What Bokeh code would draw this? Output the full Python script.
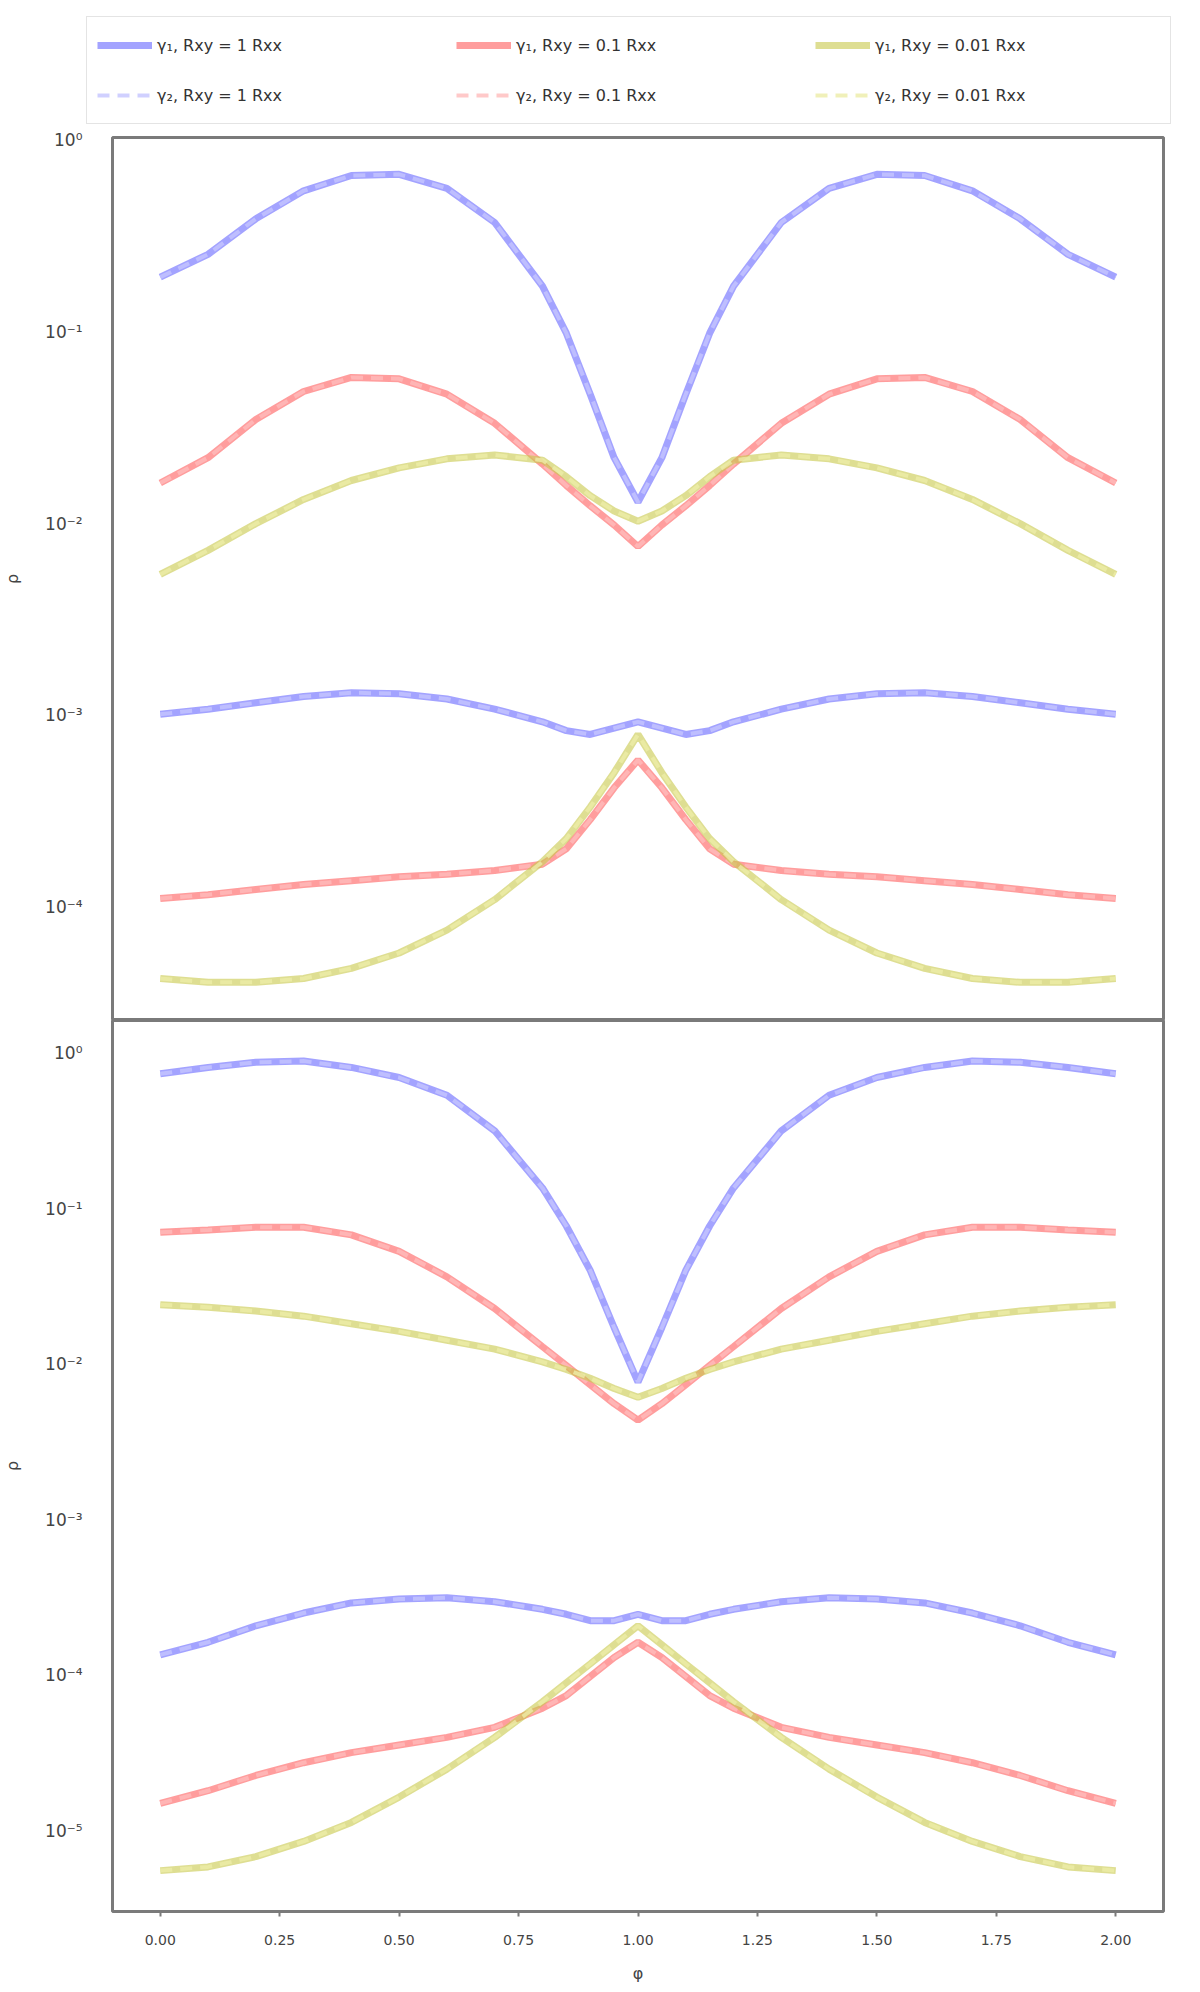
import numpy as np
from bokeh.plotting import figure
from bokeh.layouts import column
from bokeh.models import Range1d, FixedTicker, CustomJSTickFormatter, Legend, LegendItem
from bokeh.embed import file_html
from bokeh.resources import INLINE

# ---------------- data (log10 of the plotted quantity) ----------------
x = [0.0, 0.1, 0.2, 0.3, 0.4, 0.5, 0.6, 0.7, 0.8, 0.85, 0.9, 0.95, 1.0,
     1.05, 1.1, 1.15, 1.2, 1.3, 1.4, 1.5, 1.6, 1.7, 1.8, 1.9, 2.0]

# upper panel
top_blue_hi = [-0.715, -0.596, -0.411, -0.265, -0.185, -0.179, -0.252, -0.430, -0.762, -1.007, -1.325, -1.656, -1.887,
               -1.656, -1.325, -1.007, -0.762, -0.430, -0.252, -0.179, -0.185, -0.265, -0.411, -0.596, -0.715]
top_red_hi = [-1.788, -1.656, -1.457, -1.311, -1.238, -1.245, -1.325, -1.477, -1.689, -1.801, -1.907, -2.007, -2.119,
              -2.007, -1.907, -1.801, -1.689, -1.477, -1.325, -1.245, -1.238, -1.311, -1.457, -1.656, -1.788]
top_yel_hi = [-2.265, -2.139, -2.000, -1.874, -1.775, -1.709, -1.662, -1.642, -1.669, -1.755, -1.854, -1.934, -1.987,
              -1.934, -1.854, -1.755, -1.669, -1.642, -1.662, -1.709, -1.775, -1.874, -2.000, -2.139, -2.265]
top_blue_lo = [-2.993, -2.967, -2.934, -2.901, -2.881, -2.887, -2.914, -2.967, -3.033, -3.079, -3.099, -3.066, -3.033,
               -3.066, -3.099, -3.079, -3.033, -2.967, -2.914, -2.887, -2.881, -2.901, -2.934, -2.967, -2.993]
top_red_lo = [-3.954, -3.934, -3.907, -3.881, -3.861, -3.841, -3.828, -3.808, -3.775, -3.695, -3.543, -3.377, -3.232,
              -3.377, -3.543, -3.695, -3.775, -3.808, -3.828, -3.841, -3.861, -3.881, -3.907, -3.934, -3.954]
top_yel_lo = [-4.371, -4.391, -4.391, -4.371, -4.318, -4.238, -4.119, -3.960, -3.762, -3.642, -3.477, -3.298, -3.099,
              -3.298, -3.477, -3.642, -3.762, -3.960, -4.119, -4.238, -4.318, -4.371, -4.391, -4.391, -4.371]

# lower panel
bot_blue_hi = [-0.131, -0.090, -0.057, -0.049, -0.090, -0.155, -0.269, -0.498, -0.865, -1.110, -1.396, -1.763, -2.114,
               -1.763, -1.396, -1.110, -0.865, -0.498, -0.269, -0.155, -0.090, -0.049, -0.057, -0.090, -0.131]
bot_red_hi = [-1.151, -1.135, -1.118, -1.118, -1.167, -1.273, -1.437, -1.641, -1.886, -2.008, -2.131, -2.253, -2.359,
              -2.253, -2.131, -2.008, -1.886, -1.641, -1.437, -1.273, -1.167, -1.118, -1.118, -1.135, -1.151]
bot_yel_hi = [-1.616, -1.633, -1.657, -1.690, -1.739, -1.788, -1.845, -1.902, -1.984, -2.033, -2.090, -2.155, -2.212,
              -2.155, -2.090, -2.033, -1.984, -1.902, -1.845, -1.788, -1.739, -1.690, -1.657, -1.633, -1.616]
bot_blue_lo = [-3.869, -3.788, -3.682, -3.600, -3.535, -3.510, -3.502, -3.527, -3.576, -3.608, -3.649, -3.649, -3.608,
               -3.649, -3.649, -3.608, -3.576, -3.527, -3.502, -3.510, -3.535, -3.600, -3.682, -3.788, -3.869]
bot_red_lo = [-4.824, -4.743, -4.645, -4.563, -4.498, -4.449, -4.400, -4.335, -4.212, -4.131, -4.008, -3.886, -3.788,
              -3.886, -4.008, -4.131, -4.212, -4.335, -4.400, -4.449, -4.498, -4.563, -4.645, -4.743, -4.824]
bot_yel_lo = [-5.257, -5.233, -5.167, -5.069, -4.947, -4.784, -4.604, -4.400, -4.171, -4.049, -3.927, -3.804, -3.682,
              -3.804, -3.927, -4.049, -4.171, -4.400, -4.604, -4.784, -4.947, -5.069, -5.167, -5.233, -5.257]

x_ticks = [0.0, 0.25, 0.5, 0.75, 1.0, 1.25, 1.5, 1.75, 2.0]
top_y_ticks = [1, 1e-1, 1e-2, 1e-3, 1e-4]
bot_y_ticks = [1, 1e-1, 1e-2, 1e-3, 1e-4, 1e-5]

labels_row1 = ["γ₁, Rxy = 1 Rxx", "γ₁, Rxy = 0.1 Rxx", "γ₁, Rxy = 0.01 Rxx"]
labels_row2 = ["γ₂, Rxy = 1 Rxx", "γ₂, Rxy = 0.1 Rxx", "γ₂, Rxy = 0.01 Rxx"]
dark_colors = ["#6666ff", "#ff5c5c", "#c8c84a"]
light_colors = ["#c4c4ff", "#ffbcbc", "#ececa8"]

# ---------------- styling helpers ----------------
FONT = "DejaVu Sans"
fmt = CustomJSTickFormatter(code="""
const sup = {"-":"\u207b","0":"\u2070","1":"\u00b9","2":"\u00b2","3":"\u00b3","4":"\u2074",
             "5":"\u2075","6":"\u2076","7":"\u2077","8":"\u2078","9":"\u2079"};
const e = Math.round(Math.log10(tick));
return "10" + String(e).split("").map(c => sup[c]).join("");
""")

x_range = Range1d(-0.1, 2.1)

DARK_W, LIGHT_W, DASH = 7, 4, "12 8"
W = 1192
LEFT, RIGHT = 112, 29


def style(p, yticks):
    p.xgrid.visible = False
    p.ygrid.visible = False
    p.outline_line_color = "#7a7a7a"
    p.outline_line_width = 3
    p.yaxis.ticker = FixedTicker(ticks=yticks)
    p.yaxis.formatter = fmt
    p.yaxis.axis_line_color = None
    p.yaxis.major_tick_line_color = None
    p.yaxis.minor_tick_line_color = None
    p.yaxis.major_label_text_font = FONT
    p.yaxis.major_label_text_font_size = "17px"
    p.yaxis.major_label_text_color = "#444444"
    p.yaxis.major_label_standoff = 24
    p.yaxis.axis_label = "ρ"
    p.yaxis.axis_label_text_font = FONT
    p.yaxis.axis_label_text_font_style = "normal"
    p.yaxis.axis_label_text_font_size = "16px"
    p.yaxis.axis_label_text_color = "#444444"
    p.yaxis.axis_label_standoff = 20


def draw(p, series):
    for i, (hi, lo) in enumerate(series):
        for ys in (hi, lo):
            p.line(x, 10 ** np.array(ys), line_color=dark_colors[i], line_width=DARK_W, line_alpha=0.6)
        for ys in (hi, lo):
            p.line(x, 10 ** np.array(ys), line_color=light_colors[i], line_width=LIGHT_W, line_alpha=0.8,
                   line_dash=DASH)


# ---------------- legend strip ----------------
p0 = figure(width=W, height=127, x_range=(0, 1), y_range=(0, 1), output_backend="svg",
            toolbar_location=None, min_border=0, min_border_left=86, min_border_right=W - 1175,
            x_axis_location=None, y_axis_location=None)
p0.outline_line_color = None
p0.grid.visible = False
nan = [float("nan")]
dark_r = [p0.line(nan, nan, line_color=c, line_width=DARK_W, line_alpha=0.6) for c in dark_colors]
light_r = [p0.line(nan, nan, line_color=c, line_width=LIGHT_W, line_alpha=0.8, line_dash=DASH) for c in light_colors]
items = [LegendItem(label=labels_row1[i], renderers=[dark_r[i]]) for i in range(3)] + \
        [LegendItem(label=labels_row2[i], renderers=[light_r[i]]) for i in range(3)]
legend = Legend(items=items, orientation="horizontal", nrows=2,
                label_text_font=FONT, label_text_font_size="16px", label_text_color="#333333",
                glyph_width=55, glyph_height=36, label_height=36, label_width=285, spacing=14,
                padding=10, margin=0, border_line_color="#dddddd", border_line_alpha=0.8,
                location=(0, 3))
p0.add_layout(legend, "center")

# ---------------- top panel ----------------
p1 = figure(width=W, height=893, x_range=x_range, y_range=Range1d(10 ** -4.59, 10 ** 0.013),
            y_axis_type="log", output_backend="svg", toolbar_location=None, x_axis_location=None,
            min_border_left=LEFT, min_border_right=RIGHT, min_border_top=10, min_border_bottom=0)
style(p1, top_y_ticks)
draw(p1, [(top_blue_hi, top_blue_lo), (top_red_hi, top_red_lo), (top_yel_hi, top_yel_lo)])

# ---------------- bottom panel ----------------
p2 = figure(width=W, height=969, x_range=x_range, y_range=Range1d(10 ** -5.52, 10 ** 0.212),
            y_axis_type="log", output_backend="svg", toolbar_location=None,
            min_border_left=LEFT, min_border_right=RIGHT, min_border_top=0, min_border_bottom=78)
style(p2, bot_y_ticks)
draw(p2, [(bot_blue_hi, bot_blue_lo), (bot_red_hi, bot_red_lo), (bot_yel_hi, bot_yel_lo)])
p2.xaxis.ticker = FixedTicker(ticks=x_ticks)
p2.xaxis.formatter = CustomJSTickFormatter(code="return tick.toFixed(2);")
p2.xaxis.axis_line_color = None
p2.xaxis.major_tick_line_color = "#7a7a7a"
p2.xaxis.major_tick_line_width = 2
p2.xaxis.major_tick_out = 5
p2.xaxis.major_tick_in = 0
p2.xaxis.minor_tick_line_color = None
p2.xaxis.major_label_text_font = FONT
p2.xaxis.major_label_text_font_size = "14px"
p2.xaxis.major_label_text_color = "#444444"
p2.xaxis.major_label_standoff = 18
p2.xaxis.axis_label = "φ"
p2.xaxis.axis_label_text_font = FONT
p2.xaxis.axis_label_text_font_style = "normal"
p2.xaxis.axis_label_text_font_size = "16px"
p2.xaxis.axis_label_text_color = "#444444"
p2.xaxis.axis_label_standoff = 16

layout = column(p0, column(p1, p2, spacing=0), spacing=0)
open("out.html", "w").write(file_html(layout, INLINE))
